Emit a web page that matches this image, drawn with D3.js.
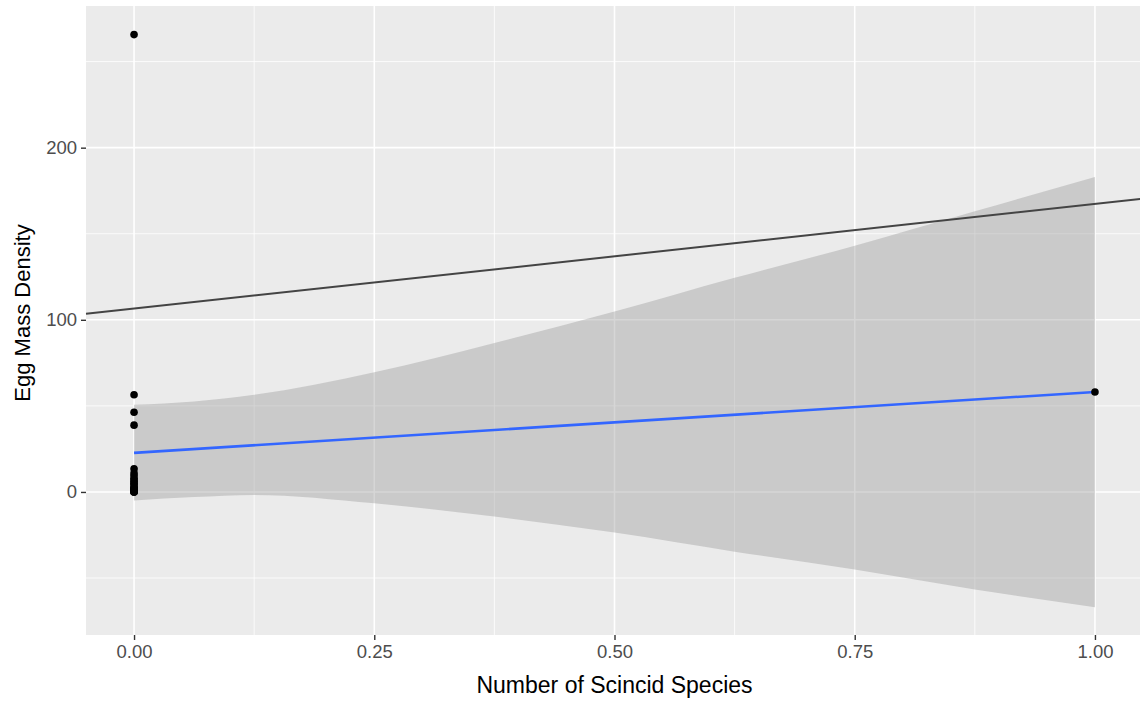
<!DOCTYPE html>
<html>
<head>
<meta charset="utf-8">
<script src="https://cdn.jsdelivr.net/npm/d3@7"></script>
<style>
  body { margin: 0; background: #fff; }
  text { font-family: "Liberation Sans", Arial, sans-serif; }
</style>
</head>
<body>
<script>
// data
var xTicks = [0, 0.25, 0.5, 0.75, 1];
var xTickLabels = ["0.00", "0.25", "0.50", "0.75", "1.00"];
var yTicks = [0, 100, 200];
var yTickLabels = ["0", "100", "200"];

var pointsX = [0, 0, 0, 0, 0, 0, 0, 0, 0, 0, 0, 0, 0, 0, 0, 0, 0, 0, 0, 0, 0, 1];
var pointsY = [265.7, 56.5, 46.3, 38.8, 13.5, 11, 9.5, 8, 7, 6, 5, 4.5, 3, 2.5, 2, 1.5, 1, 0.5, 0, 0, 0, 58.1];

// lm fit line and its confidence band
var fitX = [0, 1];
var fitY = [22.7, 58.1];
var bandX = [0, 0.0625, 0.125, 0.25, 0.375, 0.5, 0.625, 0.75, 0.875, 1];
var bandUpper = [50.6, 52.5, 56.4, 69.5, 86.6, 104.8, 124.4, 143.0, 163.0, 183.0];
var bandLower = [-5.0, -3.0, -1.7, -6.6, -14.3, -23.6, -34.7, -45.0, -56.6, -67.0];

// reference line (abline)
var ablineIntercept = 106.5;
var ablineSlope = 60.8;

var svgwidth = 1140, svgheight = 702;
var margin = {top: 6, right: -3, bottom: 67, left: 86};
var width = svgwidth - margin.left - margin.right;
var height = svgheight - margin.top - margin.bottom;

var x = d3.scaleLinear().domain([-0.05, 1.05]).range([0, width]);
var y = d3.scaleLinear().domain([-83.1, 282.3]).range([height, 0]);

var svg = d3.select("body").append("svg")
    .attr("width", svgwidth)
    .attr("height", svgheight);

var g = svg.append("g")
    .attr("transform", "translate(" + margin.left + "," + margin.top + ")");

// panel background
g.append("rect")
    .attr("width", width)
    .attr("height", height)
    .attr("fill", "#EBEBEB");

// minor grid
var xMinor = [0.125, 0.375, 0.625, 0.875];
var yMinor = [-50, 50, 150, 250];
g.selectAll(".xminor").data(xMinor).enter().append("line")
    .attr("x1", function(d) { return x(d); }).attr("x2", function(d) { return x(d); })
    .attr("y1", 0).attr("y2", height)
    .attr("stroke", "#fff").attr("stroke-width", 0.8);
g.selectAll(".yminor").data(yMinor).enter().append("line")
    .attr("y1", function(d) { return y(d); }).attr("y2", function(d) { return y(d); })
    .attr("x1", 0).attr("x2", width)
    .attr("stroke", "#fff").attr("stroke-width", 0.8);

// major grid
g.selectAll(".xmajor").data(xTicks).enter().append("line")
    .attr("x1", function(d) { return x(d); }).attr("x2", function(d) { return x(d); })
    .attr("y1", 0).attr("y2", height)
    .attr("stroke", "#fff").attr("stroke-width", 1.6);
g.selectAll(".ymajor").data(yTicks).enter().append("line")
    .attr("y1", function(d) { return y(d); }).attr("y2", function(d) { return y(d); })
    .attr("x1", 0).attr("x2", width)
    .attr("stroke", "#fff").attr("stroke-width", 1.6);

// confidence band
var bandData = bandX.map(function(d, i) { return {x: d, lo: bandLower[i], hi: bandUpper[i]}; });
var band = d3.area()
    .x(function(d) { return x(d.x); })
    .y0(function(d) { return y(d.lo); })
    .y1(function(d) { return y(d.hi); })
    .curve(d3.curveMonotoneX);
g.append("path")
    .datum(bandData)
    .attr("d", band)
    .attr("fill", "#999999")
    .attr("fill-opacity", 0.4);

// fit line
var fitData = fitX.map(function(d, i) { return {x: d, y: fitY[i]}; });
var line = d3.line()
    .x(function(d) { return x(d.x); })
    .y(function(d) { return y(d.y); });
g.append("path")
    .datum(fitData)
    .attr("d", line)
    .attr("fill", "none")
    .attr("stroke", "#3366FF")
    .attr("stroke-width", 2.6);

// points
var pts = pointsX.map(function(d, i) { return {x: d, y: pointsY[i]}; });
g.selectAll(".pt").data(pts).enter().append("circle")
    .attr("cx", function(d) { return x(d.x); })
    .attr("cy", function(d) { return y(d.y); })
    .attr("r", 3.8)
    .attr("fill", "#000");

// abline across the whole panel
var xd = x.domain();
var ablineData = xd.map(function(d) { return {x: d, y: ablineIntercept + ablineSlope * d}; });
g.append("path")
    .datum(ablineData)
    .attr("d", line)
    .attr("fill", "none")
    .attr("stroke", "#444444")
    .attr("stroke-width", 2);

// axes
var xAxis = g.append("g")
    .attr("transform", "translate(0," + height + ")")
    .call(d3.axisBottom(x).tickValues(xTicks).tickSize(5).tickPadding(5)
        .tickFormat(function(d, i) { return xTickLabels[i]; }));
var yAxis = g.append("g")
    .call(d3.axisLeft(y).tickValues(yTicks).tickSize(5).tickPadding(4)
        .tickFormat(function(d, i) { return yTickLabels[i]; }));

[xAxis, yAxis].forEach(function(a) {
  a.select(".domain").remove();
  a.selectAll(".tick line").attr("stroke", "#333333").attr("stroke-width", 1.4);
  a.selectAll(".tick text").attr("fill", "#4D4D4D").attr("font-size", 18.5)
      .attr("font-family", "Liberation Sans, Arial, sans-serif");
});

// axis titles
svg.append("text")
    .attr("x", margin.left + x(0.5))
    .attr("y", 693)
    .attr("text-anchor", "middle")
    .attr("font-size", 23)
    .attr("fill", "#000")
    .text("Number of Scincid Species");

svg.append("text")
    .attr("transform", "translate(30,313) rotate(-90)")
    .attr("text-anchor", "middle")
    .attr("font-size", 22)
    .attr("fill", "#000")
    .text("Egg Mass Density");
</script>
</body>
</html>
